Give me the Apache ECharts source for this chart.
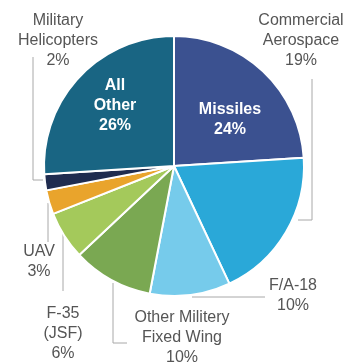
<!DOCTYPE html>
<html><head><meta charset="utf-8">
<script src="https://cdn.jsdelivr.net/npm/echarts@6/dist/echarts.min.js"></script>
<style>html,body{margin:0;padding:0;background:#fff}#c{width:347px;height:363px}</style>
</head><body><div id="c"></div>
<script>
const categories = ['Missiles','Commercial\nAerospace','F/A-18','Other Militery\nFixed Wing','F-35\n(JSF)','UAV','Military\nHelicopters','All\nOther'];
const values = [24,19,10,10,6,3,2,26];
const colors = ['#3b5190','#2aa8d8','#76cbeb','#7aa852','#a4c95b','#e9a42c','#1f2c4f','#196583'];
const insideIdx = [0,7];

// label placement (text centre) and leader line points
const labelPos = {
  0:{x:230,y:120}, 7:{x:115,y:106},
  1:{x:301,y:41, line:[[298,220],[312,220],[312,79]]},
  2:{x:293,y:296, line:[[192,297],[265,297],[265,297]]},
  3:{x:182,y:338, line:[[113,283],[113,343],[127,343]]},
  4:{x:63,y:334, line:[[63,210],[63,250],[63,291]]},
  5:{x:39,y:262, line:[[48,203],[48,222],[48,242]]},
  6:{x:58,y:41, line:[[43,180],[33,180],[33,57]]}
};

const data = categories.map((n,i)=>{
  const inside = insideIdx.includes(i);
  return {
    name:n, value:values[i],
    itemStyle:{color:colors[i]},
    label: inside ? {color:'#fff', fontWeight:'bold'} : {color:'#555'},
    labelLine:{show:!inside}
  };
});

const chart = echarts.init(document.getElementById('c'));
chart.setOption({
  animation:false,
  series:[{
    type:'pie',
    center:[174,166],
    radius:[0,130],
    startAngle:90,
    clockwise:true,
    avoidLabelOverlap:false,
    itemStyle:{borderColor:'#fff',borderWidth:2},
    label:{
      show:true,
      fontFamily:'Liberation Sans, Arial, sans-serif',
      fontSize:16,
      lineHeight:20,
      align:'center',
      formatter:p=>p.name+'\n'+p.value+'%'
    },
    labelLine:{show:true,lineStyle:{color:'#a8a8a8',width:1}},
    labelLayout:function(params){
      const p = labelPos[params.dataIndex];
      const o = {x:p.x, y:p.y, align:'center', verticalAlign:'middle'};
      if (p.line) o.labelLinePoints = p.line;
      return o;
    },
    data:data
  }]
});
</script></body></html>
